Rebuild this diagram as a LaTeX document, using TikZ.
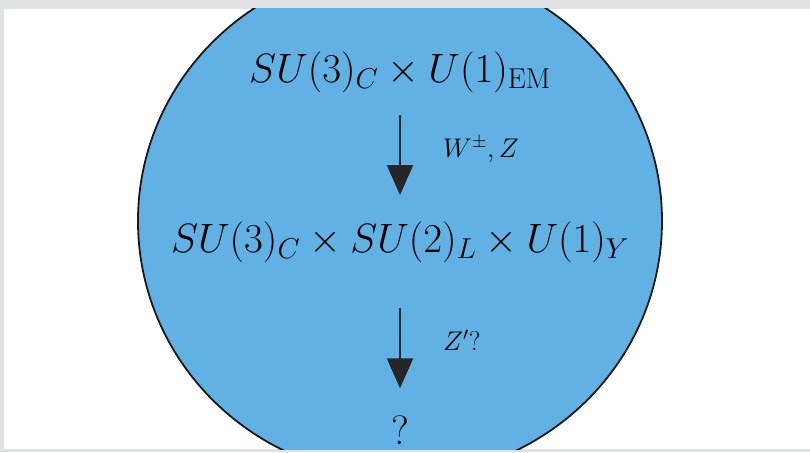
\RequirePackage{fix-cm}
\documentclass[tikz,border=0pt]{standalone}
\usepackage{amsmath,amssymb}
\usetikzlibrary{arrows.meta}

\definecolor{discblue}{RGB}{98,177,228}
\definecolor{framegray}{RGB}{224,225,227}

\begin{document}
\begin{tikzpicture}[x=1pt,y=-1pt,
  every node/.style={inner sep=0pt},
  group/.style={font=\fontsize{41}{49}\selectfont, anchor=base},
  boson/.style={font=\fontsize{27}{32}\selectfont, anchor=base west},
  breaking/.style={-{Triangle[length=30pt,width=26pt]}, line width=2pt, black!85}]

  % page frame
  \fill[framegray] (0,0) rectangle (810,452);
  \fill[white] (4,9) rectangle (810,449);

  % the disc (cut by the frame)
  \begin{scope}
    \clip (4,9) rectangle (810,449);
    \fill[discblue] (400,221) ellipse [x radius=262pt, y radius=256pt];
    \draw[line width=1.8pt, black!90] (400,221) ellipse [x radius=262pt, y radius=256pt];
  \end{scope}

  % symmetry groups
  \node[group] (em) at (400,82) {$SU(3)_C\times U(1)_{\mathrm{EM}}$};
  \node[group] (sm) at (400,252) {$SU(3)_C\times SU(2)_L\times U(1)_Y$};
  \node[group] (unk) at (400,444) {$?$};

  % breaking steps
  \draw[breaking, shorten <=22.5pt, shorten >=26pt] (em) -- (sm);
  \draw[breaking, shorten <=45.5pt, shorten >=27pt] (sm) -- (unk);

  \node[boson] (wz) at (443,157) {$W^\pm, Z$};
  \node[boson] (zp) at (443,350) {$Z'?$};
\end{tikzpicture}
\end{document}
